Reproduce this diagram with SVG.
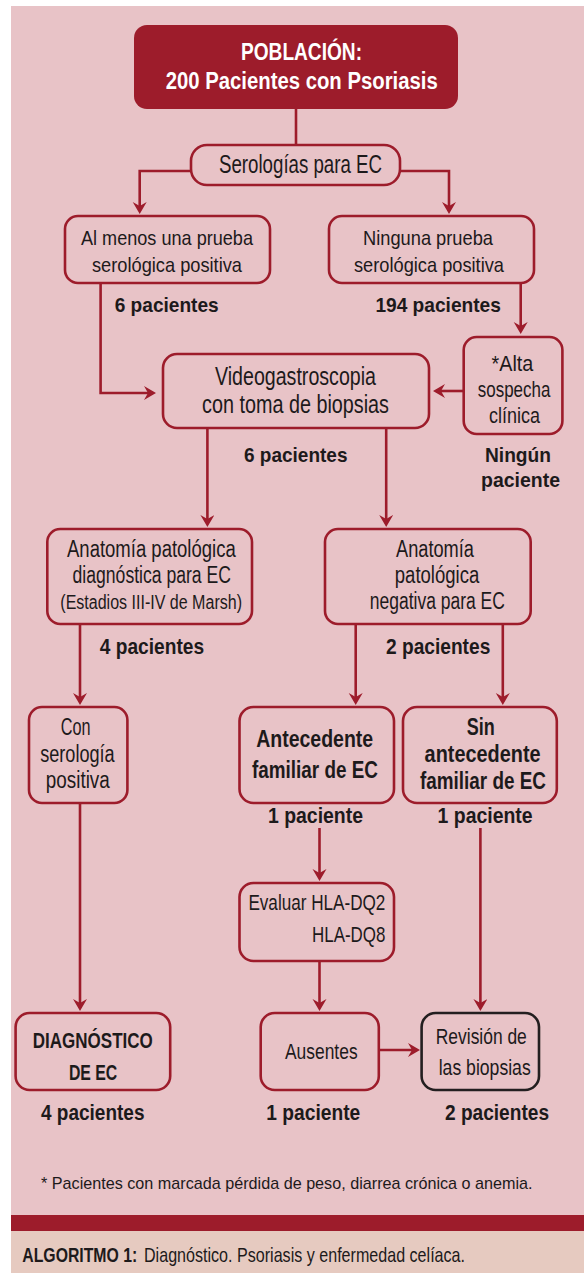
<svg xmlns="http://www.w3.org/2000/svg" width="584" height="1273" viewBox="0 0 584 1273">
<defs>
<style>
.bg{fill:#e8c3c7}
.box{fill:#e8c3c7;stroke:#9d1c2b;stroke-width:2.6}
.boxk{fill:#e8c3c7;stroke:#231f20;stroke-width:2.6}
.ln{fill:none;stroke:#9d1c2b;stroke-width:2.6}
.arr{marker-end:url(#ah)}
text{font-family:"Liberation Sans Narrow","Liberation Sans",Arial,sans-serif;fill:#1d1a1b}
.b{font-weight:bold}
.w{fill:#ffffff;font-weight:bold}
</style>
<marker id="ah" markerUnits="userSpaceOnUse" markerWidth="16" markerHeight="16" refX="9" refY="7" orient="auto">
<path d="M0,0 L12,7 L0,14 L4,7 z" fill="#9d1c2b"/>
</marker>
</defs>
<rect x="0" y="0" width="584" height="1273" fill="#ffffff"/>
<rect class="bg" x="11" y="6" width="573" height="1209"/>
<rect x="11" y="1215" width="573" height="16" fill="#9d1c2b"/>
<rect x="11" y="1231" width="573" height="42" fill="#e6cac0"/>

<g id="connectors">
<path class="ln" d="M296,109 V145"/>
<path class="ln arr" d="M191,171 H139.7 V211"/>
<path class="ln arr" d="M400,171 H449 V211"/>
<path class="ln arr" d="M100.6,283 V393 H153"/>
<path class="ln arr" d="M520.7,283 V331"/>
<path class="ln arr" d="M463.7,391 H436"/>
<path class="ln arr" d="M207.4,428 V524"/>
<path class="ln arr" d="M386.2,428 V524"/>
<path class="ln arr" d="M80,624 V702"/>
<path class="ln arr" d="M355.7,624 V702"/>
<path class="ln arr" d="M502.8,624 V702"/>
<path class="ln arr" d="M80,803 V1008"/>
<path class="ln arr" d="M319.5,828 V878"/>
<path class="ln arr" d="M480.4,828 V1008"/>
<path class="ln arr" d="M319.5,961 V1008"/>
<path class="ln arr" d="M378.8,1050 H417"/>
</g>

<g id="poblacion">
<rect x="134" y="25" width="324" height="84" rx="13" fill="#9d1c2b"/>
<text class="w" x="241" y="60" font-size="24" textLength="121" lengthAdjust="spacingAndGlyphs">POBLACIÓN:</text>
<text class="w" x="165.7" y="89" font-size="23" textLength="272" lengthAdjust="spacingAndGlyphs">200 Pacientes con Psoriasis</text>
</g>

<g id="serologias">
<rect class="box" x="191" y="145" width="209" height="40" rx="16"/>
<text x="219" y="173" font-size="26" textLength="163" lengthAdjust="spacingAndGlyphs">Serologías para EC</text>
</g>

<g id="positiva">
<rect class="box" x="65" y="216" width="205" height="67" rx="13"/>
<text x="81" y="245" font-size="21" textLength="172" lengthAdjust="spacingAndGlyphs">Al menos una prueba</text>
<text x="92" y="272" font-size="21" textLength="150" lengthAdjust="spacingAndGlyphs">serológica positiva</text>
</g>
<text class="b" x="114.7" y="312" font-size="21" textLength="104" lengthAdjust="spacingAndGlyphs">6 pacientes</text>

<g id="ninguna">
<rect class="box" x="329" y="216" width="205" height="67" rx="13"/>
<text x="363" y="245" font-size="21" textLength="130" lengthAdjust="spacingAndGlyphs">Ninguna prueba</text>
<text x="354" y="272" font-size="21" textLength="150" lengthAdjust="spacingAndGlyphs">serológica positiva</text>
</g>
<text class="b" x="375.4" y="312" font-size="21" textLength="125.5" lengthAdjust="spacingAndGlyphs">194 pacientes</text>

<g id="alta">
<rect class="box" x="463.7" y="337" width="98.7" height="97" rx="13"/>
<text x="491.6" y="370.5" font-size="22" textLength="41.7" lengthAdjust="spacingAndGlyphs">*Alta</text>
<text x="477.8" y="396.5" font-size="22" textLength="72.6" lengthAdjust="spacingAndGlyphs">sospecha</text>
<text x="489" y="422.5" font-size="22" textLength="51" lengthAdjust="spacingAndGlyphs">clínica</text>
</g>
<text class="b" x="485" y="462" font-size="21" textLength="66" lengthAdjust="spacingAndGlyphs">Ningún</text>
<text class="b" x="481" y="487" font-size="21" textLength="79" lengthAdjust="spacingAndGlyphs">paciente</text>

<g id="videogastro">
<rect class="box" x="163" y="354" width="266" height="74" rx="14"/>
<text x="215" y="385" font-size="25" textLength="161" lengthAdjust="spacingAndGlyphs">Videogastroscopia</text>
<text x="202" y="413" font-size="25" textLength="187" lengthAdjust="spacingAndGlyphs">con toma de biopsias</text>
</g>
<text class="b" x="244" y="462" font-size="21" textLength="103.5" lengthAdjust="spacingAndGlyphs">6 pacientes</text>

<g id="anat-diag">
<rect class="box" x="47.3" y="529" width="204.7" height="95" rx="13"/>
<text x="67" y="557" font-size="23" textLength="168.7" lengthAdjust="spacingAndGlyphs">Anatomía patológica</text>
<text x="72.6" y="583" font-size="23" textLength="158.3" lengthAdjust="spacingAndGlyphs">diagnóstica para EC</text>
<text x="60.3" y="609" font-size="20" textLength="181.7" lengthAdjust="spacingAndGlyphs">(Estadios III-IV de Marsh)</text>
</g>
<text class="b" x="99.8" y="654" font-size="22" textLength="104.3" lengthAdjust="spacingAndGlyphs">4 pacientes</text>

<g id="anat-neg">
<rect class="box" x="325" y="529" width="205.7" height="95" rx="13"/>
<text x="396" y="557" font-size="23" textLength="78" lengthAdjust="spacingAndGlyphs">Anatomía</text>
<text x="394.8" y="583" font-size="23" textLength="84.5" lengthAdjust="spacingAndGlyphs">patológica</text>
<text x="369.8" y="609" font-size="23" textLength="135" lengthAdjust="spacingAndGlyphs">negativa para EC</text>
</g>
<text class="b" x="386" y="654" font-size="22" textLength="104.3" lengthAdjust="spacingAndGlyphs">2 pacientes</text>

<g id="con-serologia">
<rect class="box" x="29" y="707" width="98.4" height="96" rx="13"/>
<text x="60.7" y="735" font-size="23" textLength="29.8" lengthAdjust="spacingAndGlyphs">Con</text>
<text x="40.2" y="762" font-size="23" textLength="74.5" lengthAdjust="spacingAndGlyphs">serología</text>
<text x="45.8" y="788" font-size="23" textLength="64" lengthAdjust="spacingAndGlyphs">positiva</text>
</g>

<g id="antecedente">
<rect class="box" x="239.5" y="707" width="154.5" height="96" rx="14"/>
<text class="b" x="256.2" y="747" font-size="23" textLength="117" lengthAdjust="spacingAndGlyphs">Antecedente</text>
<text class="b" x="252" y="778" font-size="23" textLength="126" lengthAdjust="spacingAndGlyphs">familiar de EC</text>
</g>
<text class="b" x="268" y="823" font-size="22" textLength="95" lengthAdjust="spacingAndGlyphs">1 paciente</text>

<g id="sin-antecedente">
<rect class="box" x="403" y="707" width="153.8" height="96" rx="14"/>
<text class="b" x="466.7" y="735" font-size="23" textLength="28" lengthAdjust="spacingAndGlyphs">Sin</text>
<text class="b" x="424.6" y="762" font-size="23" textLength="116" lengthAdjust="spacingAndGlyphs">antecedente</text>
<text class="b" x="420" y="789" font-size="23" textLength="126" lengthAdjust="spacingAndGlyphs">familiar de EC</text>
</g>
<text class="b" x="437.6" y="823" font-size="22" textLength="95" lengthAdjust="spacingAndGlyphs">1 paciente</text>

<g id="evaluar">
<rect class="box" x="239.5" y="883" width="154.5" height="78" rx="14"/>
<text x="248.4" y="910" font-size="22" textLength="137" lengthAdjust="spacingAndGlyphs">Evaluar HLA-DQ2</text>
<text x="312" y="942" font-size="22" textLength="73.4" lengthAdjust="spacingAndGlyphs">HLA-DQ8</text>
</g>

<g id="diagnostico">
<rect class="box" x="15.6" y="1013" width="154.6" height="77" rx="14"/>
<text class="b" x="32.8" y="1048" font-size="22" textLength="120" lengthAdjust="spacingAndGlyphs">DIAGNÓSTICO</text>
<text class="b" x="68.9" y="1080" font-size="22" textLength="48.4" lengthAdjust="spacingAndGlyphs">DE EC</text>
</g>
<text class="b" x="41" y="1120" font-size="22" textLength="103.5" lengthAdjust="spacingAndGlyphs">4 pacientes</text>

<g id="ausentes">
<rect class="box" x="260.7" y="1013" width="118.1" height="77" rx="14"/>
<text x="285" y="1059" font-size="22" textLength="72.6" lengthAdjust="spacingAndGlyphs">Ausentes</text>
</g>
<text class="b" x="266.3" y="1120" font-size="22" textLength="94" lengthAdjust="spacingAndGlyphs">1 paciente</text>

<g id="revision">
<rect class="boxk" x="421.6" y="1013" width="117.4" height="77" rx="14"/>
<text x="435.8" y="1044" font-size="22" textLength="91" lengthAdjust="spacingAndGlyphs">Revisión de</text>
<text x="438.7" y="1075" font-size="22" textLength="92" lengthAdjust="spacingAndGlyphs">las biopsias</text>
</g>
<text class="b" x="445" y="1120" font-size="22" textLength="104" lengthAdjust="spacingAndGlyphs">2 pacientes</text>

<text x="41" y="1189" font-size="17" textLength="491.6" lengthAdjust="spacingAndGlyphs">* Pacientes con marcada pérdida de peso, diarrea crónica o anemia.</text>
<text class="b" transform="translate(22.3,1262) scale(0.79,1)" x="0" y="0" font-size="20">ALGORITMO 1:</text>
<text transform="translate(144,1262) scale(0.805,1)" x="0" y="0" font-size="20">Diagnóstico. Psoriasis y enfermedad celíaca.</text>
</svg>
